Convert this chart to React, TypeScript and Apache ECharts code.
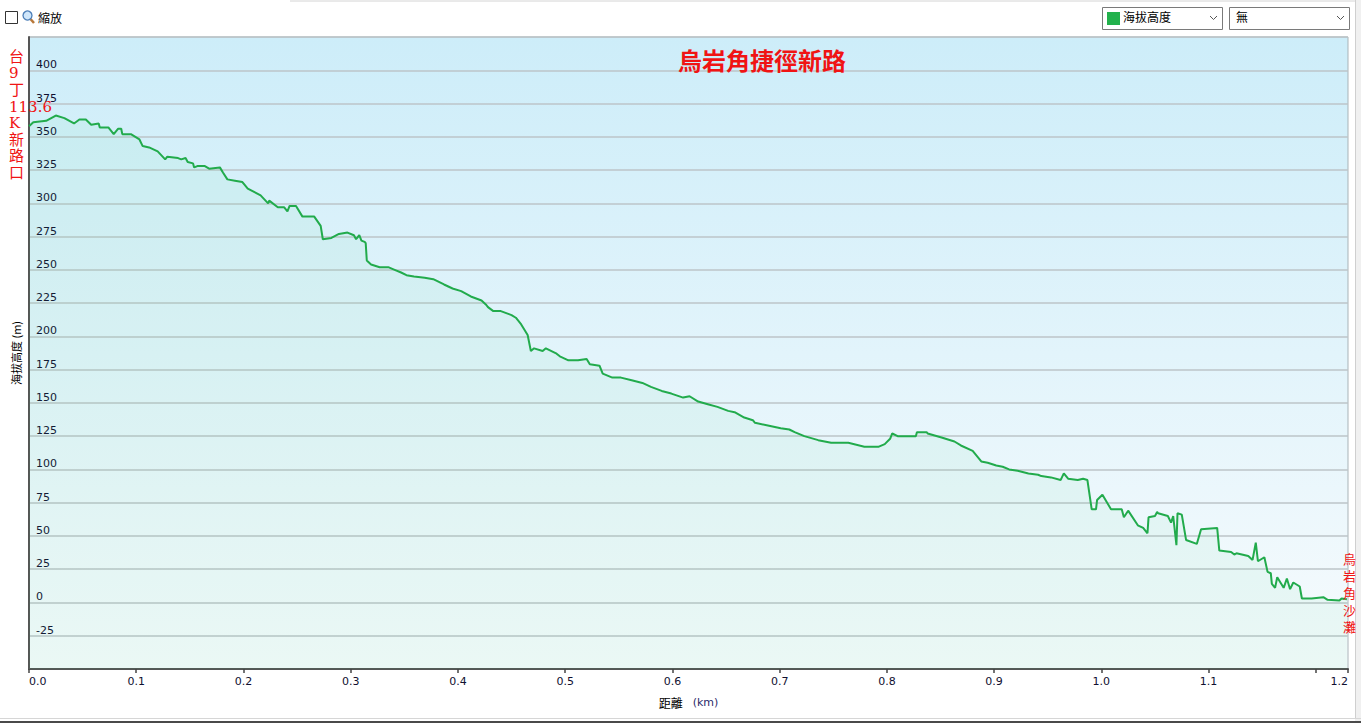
import React, { useEffect, useRef } from "react";
import * as echarts from "echarts";

// Elevation profile
const distanceKm = [
  0.0, 0.004, 0.016, 0.025, 0.033, 0.042, 0.047, 0.053, 0.058, 0.065, 0.066, 0.074, 0.079, 0.083, 0.086, 0.087,
  0.095, 0.103, 0.106, 0.112, 0.12, 0.127, 0.129, 0.139, 0.142, 0.146, 0.148, 0.153, 0.154, 0.157, 0.164, 0.168,
  0.178, 0.181, 0.185, 0.192, 0.199, 0.204, 0.216, 0.223, 0.224, 0.232, 0.238, 0.241, 0.243, 0.249, 0.255, 0.266,
  0.272, 0.274, 0.282, 0.289, 0.297, 0.303, 0.305, 0.308, 0.31, 0.313, 0.314, 0.315, 0.319, 0.327, 0.335, 0.341,
  0.347, 0.352, 0.359, 0.369, 0.377, 0.387, 0.395, 0.403, 0.412, 0.422, 0.426, 0.428, 0.433, 0.44, 0.45, 0.454,
  0.459, 0.465, 0.468, 0.471, 0.479, 0.482, 0.492, 0.495, 0.503, 0.512, 0.52, 0.523, 0.532, 0.535, 0.544, 0.552,
  0.562, 0.572, 0.58, 0.59, 0.599, 0.61, 0.616, 0.624, 0.633, 0.642, 0.652, 0.658, 0.667, 0.675, 0.677, 0.689,
  0.701, 0.709, 0.714, 0.723, 0.736, 0.748, 0.764, 0.779, 0.792, 0.798, 0.803, 0.805, 0.81, 0.827, 0.828, 0.837,
  0.838, 0.851, 0.863, 0.869, 0.88, 0.888, 0.894, 0.902, 0.908, 0.914, 0.922, 0.932, 0.941, 0.944, 0.953, 0.962,
  0.965, 0.969, 0.978, 0.983, 0.987, 0.991, 0.995, 0.996, 1.001, 1.009, 1.019, 1.021, 1.025, 1.034, 1.039, 1.043,
  1.044, 1.05, 1.052, 1.053, 1.062, 1.065, 1.067, 1.07, 1.071, 1.075, 1.079, 1.089, 1.093, 1.108, 1.11, 1.121,
  1.124, 1.126, 1.137, 1.141, 1.144, 1.146, 1.152, 1.155, 1.158, 1.159, 1.162, 1.164, 1.17, 1.173, 1.176, 1.179,
  1.185, 1.187, 1.196, 1.207, 1.211, 1.222, 1.224, 1.229,
];
const elevationM = [
  358, 361, 362, 366, 364, 360, 363, 363, 359, 360, 357, 357, 352, 356, 356, 352,
  352, 348, 343, 342, 339, 333, 335, 334, 333, 334, 331, 330, 327, 328, 328, 326,
  327, 323, 318, 317, 316, 311, 306, 300, 302, 297, 297, 294, 298, 298, 290, 290,
  283, 273, 274, 277, 278, 276, 273, 276, 272, 271, 270, 257, 254, 252, 252, 250,
  248, 246, 245, 244, 243, 239, 236, 234, 230, 227, 224, 222, 219, 219, 216, 214,
  209, 201, 189, 191, 189, 191, 187, 185, 182, 182, 183, 179, 178, 172, 169, 169,
  167, 165, 162, 159, 157, 154, 155, 151, 149, 147, 144, 143, 139, 137, 135, 133,
  131, 130, 128, 125, 122, 120, 120, 117, 117, 119, 123, 127, 125, 125, 128, 128,
  127, 124, 121, 118, 114, 106, 105, 103, 102, 100, 99, 97, 96, 95, 94, 92,
  97, 93, 92, 93, 92, 70, 70, 77, 81, 70, 70, 64, 69, 58, 56, 52,
  64, 65, 68, 67, 65, 60, 65, 43, 67, 66, 47, 44, 55, 56, 39, 38,
  36, 37, 35, 32, 45, 31, 34, 23, 22, 14, 11, 19, 11, 18, 10, 15,
  12, 3, 3, 4, 2, 1.5, 3, 2.5,
];

const xMin = 0;
const xMax = 1.23;
const xInterval = 0.1;
const yMin = -50;
const yMax = 425;
const yInterval = 25;

const chartTitle = "烏岩角捷徑新路";
const startLabel = ["台", "9", "丁", "113.6", "K", "新", "路", "口"];
const endLabel = ["烏", "岩", "角", "沙", "灘"];
const seriesName = "海拔高度";
const yAxisName = "海拔高度 (m)";

export default function App() {
  const ref = useRef<HTMLDivElement>(null);

  useEffect(() => {
    if (!ref.current) return;
    const chart = echarts.init(ref.current, null, { renderer: "svg" });
    const data = distanceKm.map((d, i) => [d, elevationM[i]]);
    const red = "#f01414";
    const cjk = "'Noto Sans CJK TC', 'Noto Sans CJK SC', sans-serif";
    const redFont = "'DejaVu Serif', 'Noto Sans CJK TC', serif";

    chart.setOption({
      animation: false,
      backgroundColor: "#ffffff",
      grid: {
        left: 29,
        right: 13,
        top: 37,
        bottom: 54,
        show: true,
        borderColor: "#a9b3b7",
        borderWidth: 1,
        backgroundColor: {
          type: "linear",
          x: 0,
          y: 0,
          x2: 0,
          y2: 1,
          colorStops: [
            { offset: 0, color: "#cdedf9" },
            { offset: 1, color: "#f7fbfd" },
          ],
        },
      },
      xAxis: {
        type: "value",
        min: xMin,
        max: xMax,
        interval: xInterval,
        name: "{a|距離}   {b|(km)}",
        nameLocation: "middle",
        nameGap: 27,
        nameTextStyle: {
          rich: {
            a: { fontFamily: cjk, fontSize: 12, color: "#000" },
            b: { fontFamily: "'DejaVu Sans', sans-serif", fontSize: 11, color: "#2a2a6a" },
          },
        },
        axisLine: { show: true, onZero: false, lineStyle: { color: "#555", width: 2 } },
        axisTick: { show: true, length: 4, lineStyle: { color: "#444", width: 1.5 } },
        splitLine: { show: false },
        axisLabel: {
          margin: 7,
          fontFamily: "'DejaVu Sans', sans-serif",
          fontSize: 11,
          color: "#101030",
          alignMinLabel: "left",
          alignMaxLabel: "right",
          formatter: (v: number) => {
            if (Math.abs(v - 1.2) < 1e-6) return "";
            if (v > 1.225) return "1.2";
            return v.toFixed(1);
          },
        },
      },
      yAxis: {
        type: "value",
        min: yMin,
        max: yMax,
        interval: yInterval,
        name: yAxisName,
        nameLocation: "middle",
        nameGap: 5,
        nameTextStyle: { fontFamily: cjk, fontSize: 11, color: "#000" },
        axisLine: { show: true, onZero: false, lineStyle: { color: "#555", width: 2 } },
        axisTick: { show: false },
        splitLine: { show: true, lineStyle: { color: "#bcc5c8", width: 1.5 } },
        axisLabel: {
          inside: true,
          margin: 7,
          verticalAlign: "bottom",
          showMinLabel: false,
          showMaxLabel: false,
          fontFamily: "'DejaVu Sans', sans-serif",
          fontSize: 11,
          color: "#101030",
        },
      },
      series: [
        {
          name: seriesName,
          type: "line",
          data,
          symbol: "none",
          lineStyle: { color: "#22ab4c", width: 2 },
          areaStyle: { color: "rgba(60, 205, 130, 0.09)", origin: "start" },
          z: 3,
        },
      ],
      graphic: [
        // top window edge
        { type: "line", shape: { x1: 290, y1: 1, x2: 1361, y2: 1 }, style: { stroke: "#d4d4d4", lineWidth: 1 }, z: 10 },
        // right window strip
        { type: "rect", shape: { x: 1355, y: 0, width: 6, height: 723 }, style: { fill: "#f0f0f0" }, z: 10 },
        { type: "line", shape: { x1: 1355.5, y1: 0, x2: 1355.5, y2: 718 }, style: { stroke: "#cfcfcf", lineWidth: 1 }, z: 10 },
        // bottom window edge
        { type: "line", shape: { x1: 0, y1: 718.5, x2: 1361, y2: 718.5 }, style: { stroke: "#d6d6d6", lineWidth: 1 }, z: 10 },
        { type: "rect", shape: { x: 0, y: 721, width: 1361, height: 2 }, style: { fill: "#4a4a4a" }, z: 10 },
        // zoom checkbox
        { type: "rect", shape: { x: 5.5, y: 11.5, width: 12, height: 12 }, style: { fill: "#fff", stroke: "#333", lineWidth: 1 }, z: 10 },
        { type: "line", shape: { x1: 30.5, y1: 19, x2: 34, y2: 23 }, style: { stroke: "#b8783a", lineWidth: 2.5 }, z: 10 },
        { type: "circle", shape: { cx: 27.5, cy: 15.5, r: 4.5 }, style: { fill: "#cfe6fa", stroke: "#4d7fb8", lineWidth: 1.3 }, z: 11 },
        { type: "text", x: 38, y: 17, style: { text: "縮放", font: `12px ${cjk}`, fill: "#000", verticalAlign: "middle", textAlign: "left" }, z: 10 },
        // series dropdown
        { type: "rect", shape: { x: 1102.5, y: 7.5, width: 120, height: 22 }, style: { fill: "#fff", stroke: "#7a7a7a", lineWidth: 1 }, z: 10 },
        { type: "rect", shape: { x: 1107, y: 12, width: 13, height: 13 }, style: { fill: "#22b14c" }, z: 10 },
        { type: "text", x: 1123, y: 16, style: { text: seriesName, font: `12px ${cjk}`, fill: "#000", verticalAlign: "middle", textAlign: "left" }, z: 10 },
        { type: "polyline", shape: { points: [[1210, 16], [1213.5, 19.5], [1217, 16]] }, style: { stroke: "#555", lineWidth: 1, fill: "none" }, z: 10 },
        // second dropdown
        { type: "rect", shape: { x: 1229.5, y: 7.5, width: 120, height: 22 }, style: { fill: "#fff", stroke: "#7a7a7a", lineWidth: 1 }, z: 10 },
        { type: "text", x: 1236, y: 16, style: { text: "無", font: `12px ${cjk}`, fill: "#000", verticalAlign: "middle", textAlign: "left" }, z: 10 },
        { type: "polyline", shape: { points: [[1337, 16], [1340.5, 19.5], [1344, 16]] }, style: { stroke: "#555", lineWidth: 1, fill: "none" }, z: 10 },
        // red annotations
        { type: "text", x: 762, y: 59, style: { text: chartTitle, font: `bold 24px ${cjk}`, fill: red, textAlign: "center", verticalAlign: "middle" }, z: 12 },
        { type: "text", x: 9, y: 48.5, style: { text: startLabel.join("\n"), font: `15px ${redFont}`, lineHeight: 16.6, fill: red, textAlign: "left", verticalAlign: "top" }, z: 12 },
        { type: "text", x: 1343, y: 549.5, style: { text: endLabel.join("\n"), font: `13px ${cjk}`, lineHeight: 17, fill: red, textAlign: "left", verticalAlign: "top" }, z: 12 },
      ],
    });

    return () => chart.dispose();
  }, []);

  return (
    <div
      ref={ref}
      style={{ position: "fixed", left: 0, top: 0, width: 1361, height: 723, background: "#fff" }}
    />
  );
}
